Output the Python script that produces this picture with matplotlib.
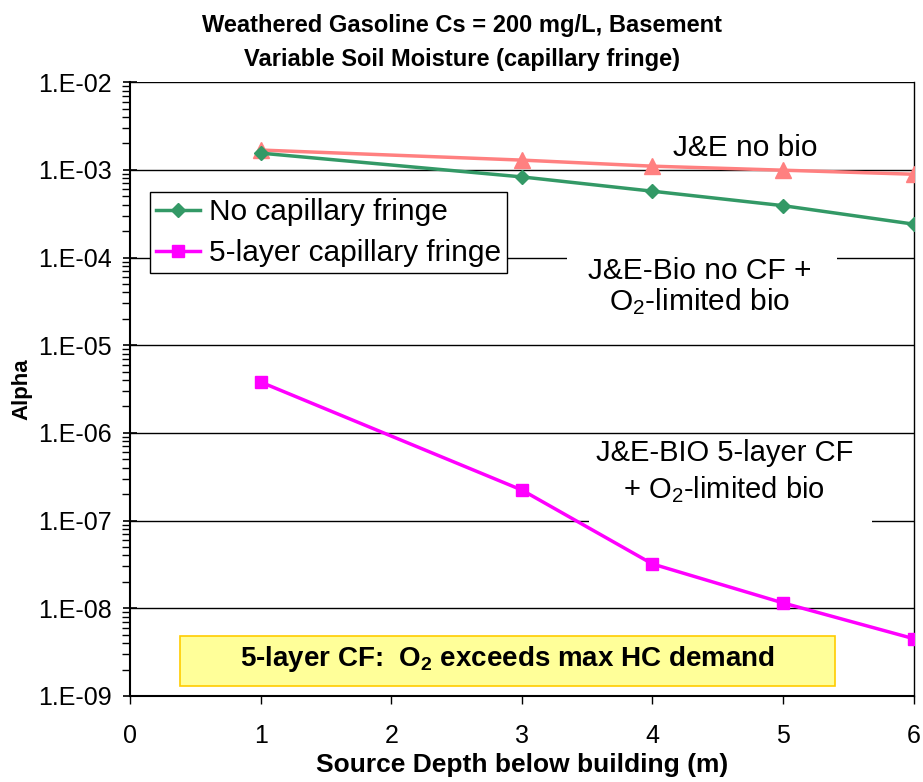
import numpy as np
import matplotlib.pyplot as plt
from matplotlib.patches import Rectangle
from matplotlib.ticker import FixedLocator, FuncFormatter, LogLocator, NullFormatter

plt.rcParams['font.family'] = ['Liberation Sans', 'DejaVu Sans']
plt.rcParams['mathtext.default'] = 'regular'

# data
depth = [1, 3, 4, 5, 6]
no_cf = [1.55e-3, 8.3e-4, 5.7e-4, 3.9e-4, 2.4e-4]
cf5 = [3.8e-6, 2.23e-7, 3.2e-8, 1.15e-8, 4.5e-9]
je_nobio = [1.68e-3, 1.29e-3, 1.1e-3, 9.9e-4, 8.9e-4]

fig = plt.figure(figsize=(9.23, 7.82), dpi=100)
ax = fig.add_axes([0.1408, 0.110, 0.8492, 0.785])

ax.plot(depth, je_nobio, color='#FF8080', lw=2.5, marker='^', ms=11, zorder=4)
ax.plot(depth, no_cf, color='#339966', lw=2.5, marker='D', ms=7,
        label='No capillary fringe', zorder=5)
ax.plot(depth, cf5, color='#FF00FF', lw=2.5, marker='s', ms=8,
        label='5-layer capillary fringe', zorder=5)

ax.set_yscale('log')
ax.set_xlim(0, 6)
ax.set_ylim(1e-9, 1e-2)
ax.set_xticks(range(7))
ax.yaxis.set_major_locator(FixedLocator([10.0**k for k in range(-9, -1)]))
ax.yaxis.set_major_formatter(FuncFormatter(lambda v, p: '1.E-%02d' % round(-np.log10(v))))
ax.yaxis.set_minor_locator(LogLocator(base=10, subs=np.arange(2, 10), numticks=20))
ax.yaxis.set_minor_formatter(NullFormatter())
ax.grid(axis='y', which='major', color='black', lw=1)
ax.set_axisbelow(True)

ax.tick_params(axis='y', which='major', direction='inout', length=10, width=1.2,
               labelsize=18, pad=8)
ax.tick_params(axis='y', which='minor', direction='out', length=6, width=1)
ax.tick_params(axis='x', direction='out', length=6, width=1, labelsize=18, pad=14)
for s in ['left', 'bottom']:
    ax.spines[s].set_linewidth(1.5)
ax.spines['top'].set_visible(False)
ax.spines['right'].set_linewidth(1)

ax.set_xlabel('Source Depth below building (m)', fontsize=19, fontweight='bold', labelpad=4)
ax.set_ylabel('Alpha', fontsize=16, fontweight='bold', labelpad=4)
fig.suptitle('Weathered Gasoline Cs = 200 mg/L, Basement\nVariable Soil Moisture (capillary fringe)',
             fontsize=17, fontweight='bold', y=0.982, linespacing=1.6)

leg = ax.legend(loc='upper left', bbox_to_anchor=(0.025, 0.821), fontsize=21.5,
                frameon=True, fancybox=False, edgecolor='black', framealpha=1,
                handlelength=1.5, handletextpad=0.3, borderpad=0.2, labelspacing=0.45,
                borderaxespad=0)
leg.get_frame().set_linewidth(1)

# white text boxes hiding the gridlines behind the notes
ax.add_patch(Rectangle((3.344, 10**-4.713), 5.411 - 3.344, 10**-3.915 - 10**-4.713,
                       facecolor='white', edgecolor='none', zorder=2))
ax.add_patch(Rectangle((3.513, 10**-7.108), 5.678 - 3.513, 10**-6.048 - 10**-7.108,
                       facecolor='white', edgecolor='none', zorder=2))

ax.text(4.71, 10**-2.75, 'J&E no bio', ha='center', va='center', fontsize=21.5, zorder=3)
ax.text(4.36, 10**-4.337, 'J&E-Bio no CF +\nO$_2$-limited bio', ha='center', va='center',
        fontsize=21.5, linespacing=1.05, zorder=3)
ax.text(4.55, 10**-6.446, 'J&E-BIO 5-layer CF\n+ O$_2$-limited bio', ha='center', va='center',
        fontsize=21, linespacing=1.3, zorder=3)

ax.add_patch(Rectangle((0.383, 10**-8.886), 5.395 - 0.383, 10**-8.316 - 10**-8.886,
                       facecolor='#FFFF99', edgecolor='#FFCC00', lw=1.2, zorder=3))
ax.text(2.89, 10**-8.58, '5-layer CF:  O$_2$ exceeds max HC demand', ha='center', va='center',
        fontsize=20, fontweight='bold', zorder=4)

fig.savefig('out.png', dpi=100)
